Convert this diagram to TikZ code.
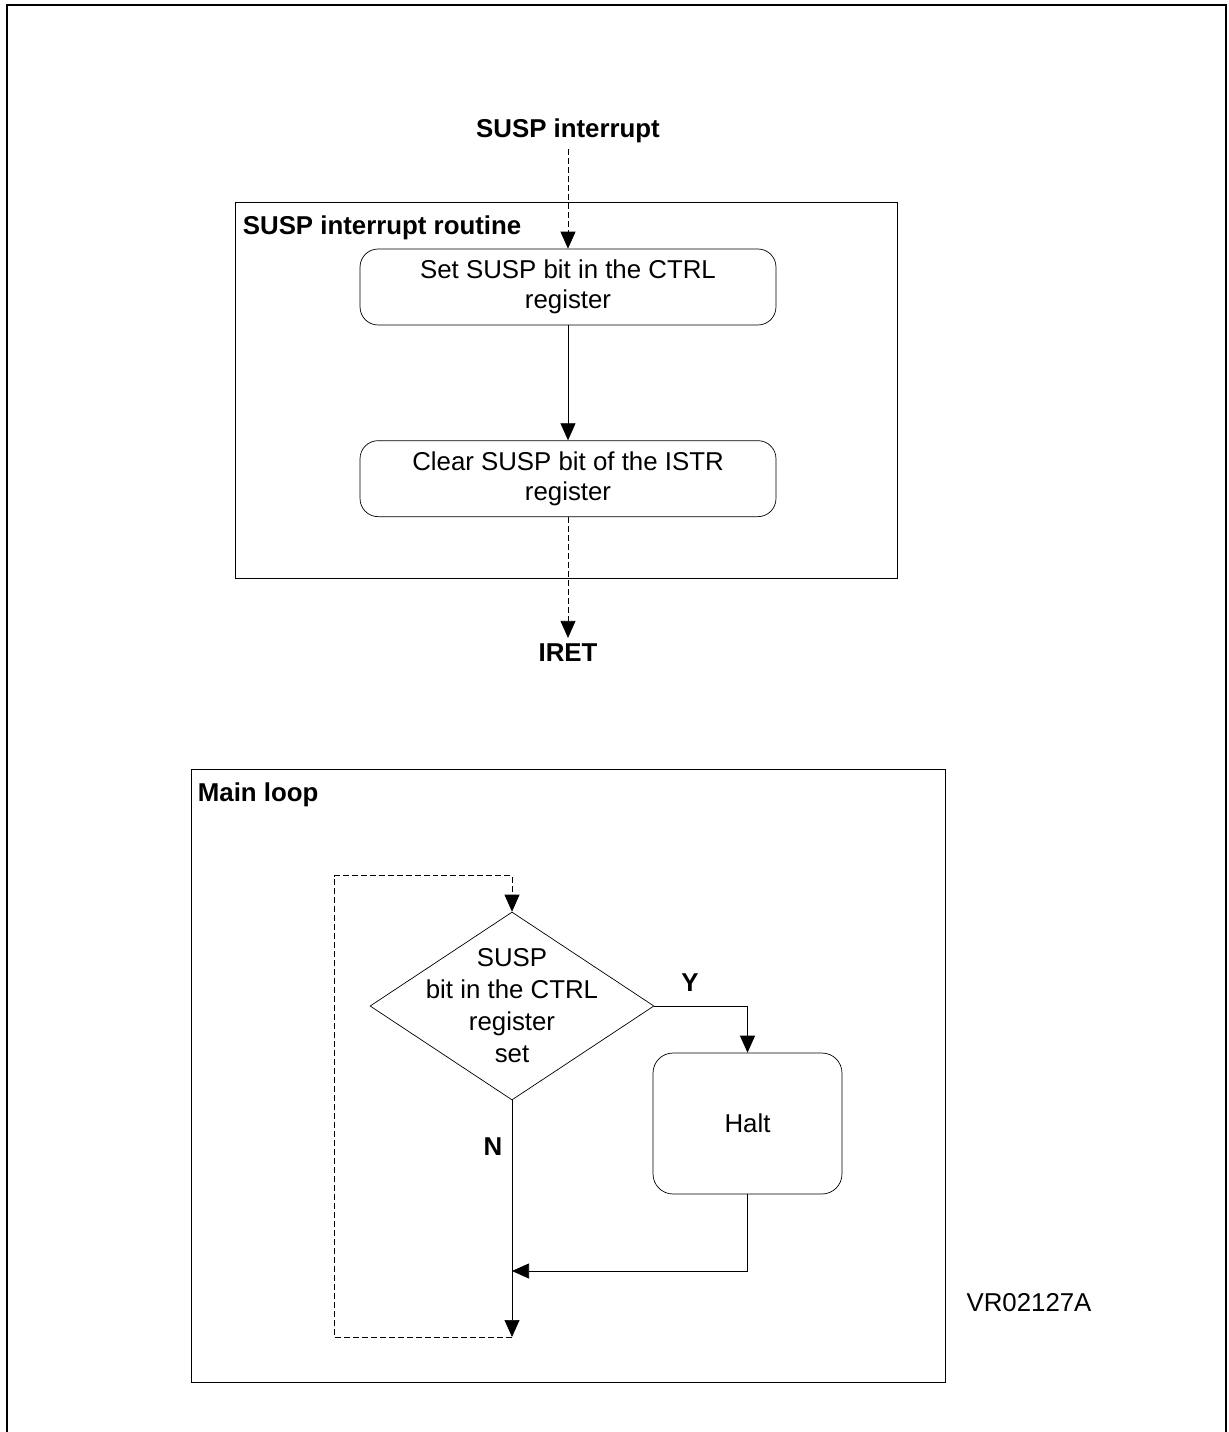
\documentclass[tikz,border=0pt]{standalone}
\usepackage{fontspec}
\setmainfont{Liberation Sans}
\usetikzlibrary{positioning, arrows.meta, shapes.geometric}
\tikzset{>={Triangle[length=0.34cm,width=0.3cm]}}

\begin{document}
\begin{tikzpicture}[x=0.02cm, y=-0.02cm,
    txt/.style={font=\fontsize{14.7}{17}\selectfont},
    bold/.style={font=\fontsize{14.7}{17}\selectfont\bfseries},
    frame/.style={draw, line width=0.6pt, inner sep=0pt},
    title/.style={bold, inner sep=0pt},
    box/.style={draw, rounded corners=0.36cm, minimum width=8.32cm, minimum height=1.52cm, inner sep=0pt, align=center, txt},
    flowdash/.style={dash pattern=on 0.12cm off 0.06cm}]
    \useasboundingbox (0,0) rectangle (1229,1432);
    \draw[line width=1.4pt] (7,1432) -- (7,5) -- (1226,5) -- (1226,1432);

    % interrupt routine
    \node[frame, minimum width=13.26cm, minimum height=7.54cm] (routine) at (566.5,390.5) {};
    \node[title, below right=0.28cm and 0.16cm of routine.north west] (routinetitle) {SUSP interrupt routine};
    \node[bold] (intr) at (568,131) {SUSP interrupt};
    \node[box] (set) at (568,287) {Set SUSP bit in the CTRL\\register};
    \node[box, below=2.3cm of set] (clear) {Clear SUSP bit of the ISTR\\register};
    \node[bold] (iret) at (568,653) {IRET};

    \draw[->, flowdash] (intr) -- (set);
    \draw[->] (set) -- (clear);
    \draw[->, flowdash] (clear) -- (iret);

    % main loop
    \node[frame, minimum width=15.1cm, minimum height=12.28cm] (mainloop) at (568.5,1076) {};
    \node[title, below right=0.28cm and 0.14cm of mainloop.north west] (looptitle) {Main loop};
    \node[draw, diamond, minimum width=5.68cm, minimum height=3.76cm, inner sep=0pt] (test) at (512,1006) {};
    \node[align=center, font=\fontsize{14.7}{18.2}\selectfont] (testtext) at (test) {SUSP\\bit in the CTRL\\register\\set};
    \node[draw, rounded corners=0.4cm, minimum width=3.78cm, minimum height=2.82cm, txt] (halt) at (747.5,1123.5) {Halt};
    \node[bold] (ylbl) at (690,983) {Y};
    \node[bold] (nlbl) at (493,1147) {N};
    \coordinate (merge) at (512,1271);
    \coordinate (loopend) at (512,1337);

    \draw[->] (test.east) -| (halt.north);
    \draw[->] (halt.south) |- (merge);
    \draw[->] (test.south) -- (loopend);
    \draw[->, flowdash] (loopend) -- ++(-178,0) |- ([yshift=0.72cm]test.north) -- (test.north);

    \node[txt] (figid) at (1029,1303) {VR02127A};
\end{tikzpicture}
\end{document}
